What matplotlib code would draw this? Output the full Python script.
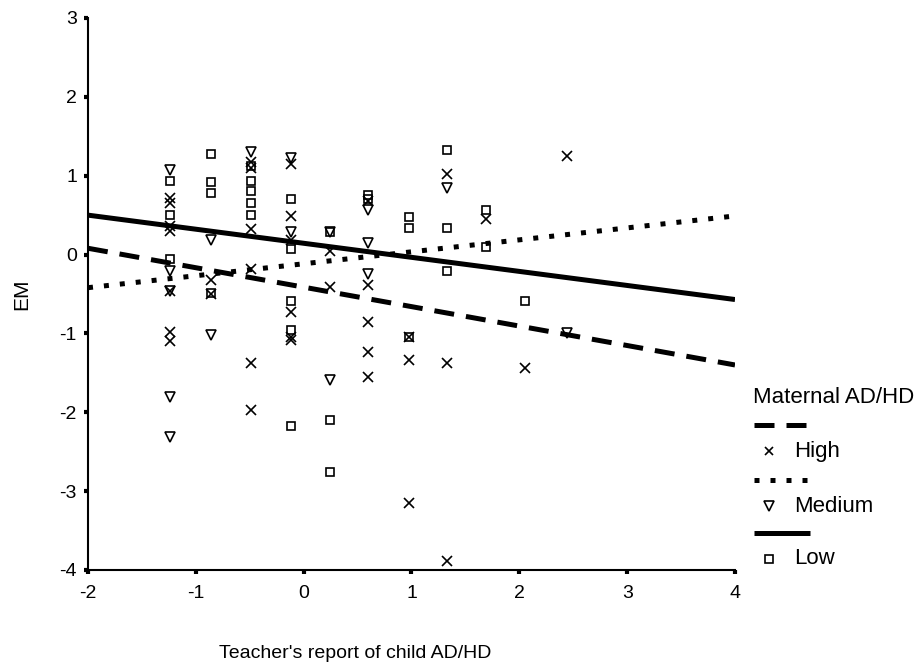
import matplotlib
matplotlib.use("Agg")
import matplotlib.pyplot as plt
from matplotlib.lines import Line2D

plt.rcParams["font.family"] = ["Liberation Sans", "DejaVu Sans"]
plt.rcParams["axes.unicode_minus"] = False

# teacher-report column positions
COLS = [-1.24, -0.86, -0.49, -0.12, 0.24, 0.60, 0.98, 1.33, 1.69, 2.05, 2.44]

# EM scores by column index, one dict per maternal AD/HD group
high_pts = {
    0: [0.72, 0.66, 0.36, 0.30, -0.46, -0.98, -1.09],
    1: [-0.32, -0.50],
    2: [1.18, 1.10, 0.32, -0.18, -1.38, -1.97],
    3: [1.15, 0.49, 0.18, -0.73, -1.04, -1.08],
    4: [0.04, -0.41],
    5: [0.68, -0.38, -0.85, -1.24, -1.55],
    6: [-1.04, -1.34, -3.15],
    7: [1.02, -1.37, -3.88],
    8: [0.45],
    9: [-1.44],
    10: [1.25],
}
medium_pts = {
    0: [1.07, -0.21, -0.46, -1.80, -2.31],
    1: [0.19, -1.02],
    2: [1.30],
    3: [1.22, 0.29],
    4: [0.29, -1.59],
    5: [0.57, 0.15, -0.25],
    7: [0.85],
    10: [-0.99],
}
low_pts = {
    0: [0.93, 0.50, -0.06],
    1: [1.27, 0.92, 0.78, -0.49],
    2: [1.12, 0.93, 0.80, 0.65, 0.50],
    3: [0.71, 0.07, -0.59, -0.96, -2.18],
    4: [0.29, -2.10, -2.76],
    5: [0.76, 0.70],
    6: [0.48, 0.34, -1.04],
    7: [1.32, 0.34, -0.21],
    8: [0.57, 0.10],
    9: [-0.59],
}

# fitted regression lines, value at x = -2 and x = 4
FIT_X = [-2, 4]
high_fit = [0.08, -1.40]
medium_fit = [-0.42, 0.49]
low_fit = [0.50, -0.57]


def flatten(pts):
    xs, ys = [], []
    for i, vals in pts.items():
        for v in vals:
            xs.append(COLS[i])
            ys.append(v)
    return xs, ys


W, H = 919, 667
fig = plt.figure(figsize=(W / 100, H / 100), dpi=100)
ax = fig.add_axes([88 / W, 97 / H, 647 / W, 552 / H])

lw = 3.6
dash_style = dict(color="black", lw=lw, solid_capstyle="butt", dash_capstyle="butt")
ax.plot(FIT_X, high_fit, linestyle=(0, (4, 2.4)), **dash_style)
ax.plot(FIT_X, medium_fit, linestyle=(0, (1, 2.2)), **dash_style)
ax.plot(FIT_X, low_fit, linestyle="-", **dash_style)

mk = dict(linestyle="none", color="black", markerfacecolor="none", markeredgewidth=1.2)
ax.plot(*flatten(high_pts), marker="x", markersize=6.5, **mk)
ax.plot(*flatten(medium_pts), marker="v", markersize=7.5, **mk)
ax.plot(*flatten(low_pts), marker="s", markersize=6, **mk)

ax.set_xlim(-2, 4)
ax.set_ylim(-4, 3)
ax.set_xticks(range(-2, 5))
ax.set_yticks(range(-4, 4))
for s in ["top", "right"]:
    ax.spines[s].set_visible(False)
for s in ["left", "bottom"]:
    ax.spines[s].set_linewidth(1.5)
ax.tick_params(axis="both", direction="out", length=3, width=3, labelsize=14)
ax.tick_params(axis="x", pad=8)
ax.tick_params(axis="y", pad=5)

ax.set_xlabel("Teacher's report of child AD/HD", fontsize=14)
ax.set_ylabel("EM", fontsize=15)
ax.xaxis.set_label_coords(0.413, -0.136)
ax.yaxis.set_label_coords(-0.087, 0.5)


# legend drawn by hand: line sample on one row, marker + label on the next
def fx(px):
    return px / W


def fy(py):
    return 1 - py / H


fig.text(fx(753), fy(398), "Maternal AD/HD", fontsize=16, va="center", ha="left")
entries = [
    ("High", (0, (4, 2.4)), "x", 6, 425),
    ("Medium", (0, (1, 2.2)), "v", 7, 480),
    ("Low", "-", "s", 5.5, 533),
]
for label, ls, marker, ms, ly in entries:
    fig.add_artist(Line2D([fx(754), fx(810)], [fy(ly), fy(ly)], linestyle=ls,
                          transform=fig.transFigure, **dash_style))
    my = ly + 26
    fig.add_artist(Line2D([fx(769)], [fy(my)], marker=marker, markersize=ms,
                          transform=fig.transFigure, **mk))
    fig.text(fx(794), fy(my), label, fontsize=16, va="center", ha="left")

fig.savefig("out.png", dpi=100)
